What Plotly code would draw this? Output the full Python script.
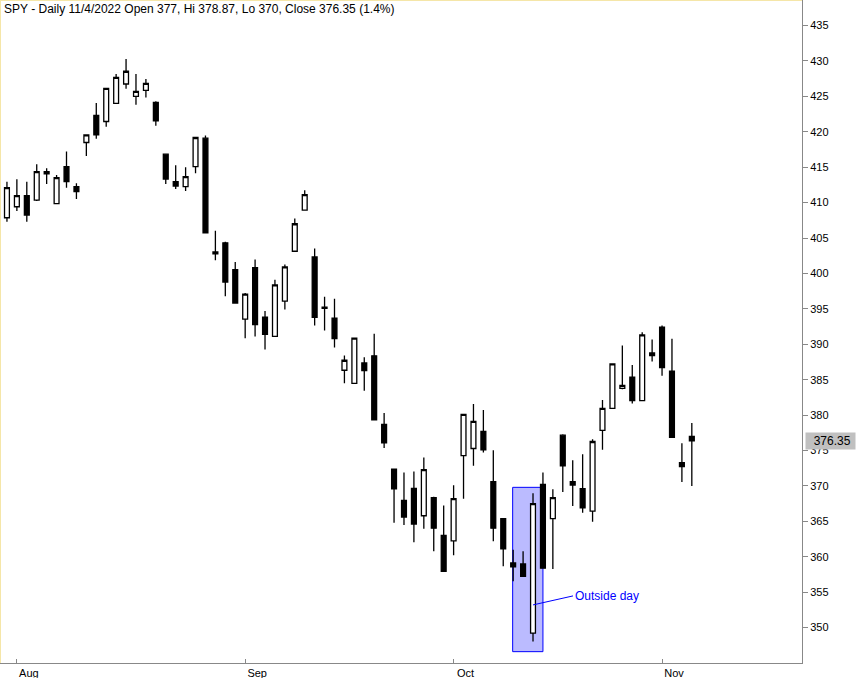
import plotly.graph_objects as go

# SPY daily, 2022-07-29 .. 2022-11-04 (one entry per trading day)
dates = (["7/29"] + [f"8/{d}" for d in (1, 2, 3, 4, 5, 8, 9, 10, 11, 12, 15, 16, 17, 18, 19,
                                         22, 23, 24, 25, 26, 29, 30, 31)]
         + [f"9/{d}" for d in (1, 2, 6, 7, 8, 9, 12, 13, 14, 15, 16, 19, 20, 21, 22, 23,
                               26, 27, 28, 29, 30)]
         + [f"10/{d}" for d in (3, 4, 5, 6, 7, 10, 11, 12, 13, 14, 17, 18, 19, 20, 21,
                                24, 25, 26, 27, 28, 31)]
         + [f"11/{d}" for d in (1, 2, 3, 4)])

opens = [407.86, 409.41, 410.97, 410.36, 414.37, 409.84, 415.08, 412.25, 418.48, 422.3,
         421.45, 424.0, 426.74, 424.99, 425.84, 424.14, 416.83, 412.95, 412.25, 415.08,
         419.09, 402.76, 404.32, 400.54,
         393.55, 400.82, 393.83, 391.1, 396.1, 403.13, 408.94, 402.33, 395.25, 393.69,
         386.33, 384.48, 387.36, 388.36, 378.68, 372.35, 367.96, 369.66, 365.79, 368.34,
         363.0,
         362.25, 374.29, 375.28, 377.69, 370.61, 365.37, 359.13, 358.99, 349.22, 370.23,
         365.37, 377.17, 370.61, 369.62, 366.45, 377.83, 380.95, 383.78, 385.34, 382.03,
         388.78,
         392.42, 386.19, 373.3, 377.0]
highs = [412.95, 413.29, 412.95, 415.41, 414.84, 413.9, 417.2, 412.72, 419.56, 424.05,
         426.13, 428.16, 430.28, 428.16, 427.45, 424.29, 416.83, 415.27, 414.99, 419.19,
         419.47, 406.01, 404.46, 401.62,
         397.23, 401.95, 394.68, 399.12, 401.25, 407.76, 411.73, 403.51, 396.71, 396.43,
         388.4, 390.86, 388.17, 391.47, 380.28, 372.35, 371.88, 372.02, 374.0, 368.48,
         367.25,
         370.09, 380.1, 381.56, 380.71, 375.05, 365.37, 361.0, 360.79, 368.95, 371.88,
         369.52, 377.31, 373.63, 374.48, 376.6, 382.13, 387.32, 389.82, 387.08, 391.71,
         390.67,
         392.66, 390.77, 376.04, 378.87]
lows = [407.3, 408.8, 407.3, 410.22, 412.62, 409.84, 412.1, 410.5, 416.59, 419.0,
        420.7, 424.0, 426.08, 423.81, 424.85, 420.84, 412.62, 411.92, 411.63, 414.14,
        405.73, 401.86, 396.76, 395.82,
        390.86, 391.1, 389.25, 391.1, 394.92, 403.04, 408.85, 392.65, 391.95, 389.54,
        384.48, 384.48, 383.45, 379.34, 375.37, 364.8, 364.47, 362.06, 363.95, 360.78,
        357.95,
        360.22, 368.2, 372.83, 374.71, 362.2, 358.66, 356.54, 357.15, 348.04, 358.38,
        358.28, 369.14, 367.16, 366.22, 364.94, 375.09, 380.95, 383.64, 381.65, 382.03,
        387.56,
        385.57, 376.84, 370.56, 370.0]
closes = [412.1, 410.97, 408.23, 414.37, 414.04, 413.52, 412.95, 411.54, 419.56, 419.56,
          426.13, 427.69, 428.54, 425.7, 426.84, 421.55, 413.33, 412.34, 413.66, 419.19,
          405.73, 403.04, 398.79, 395.82,
          397.09, 392.79, 391.38, 398.37, 400.92, 407.01, 411.11, 393.79, 395.06, 390.81,
          387.74, 390.86, 386.28, 379.34, 376.08, 369.57, 365.6, 364.61, 372.3, 364.04,
          357.95,
          368.2, 380.1, 379.1, 375.09, 364.04, 361.12, 358.57, 357.25, 367.49, 358.38,
          368.34, 372.83, 370.13, 366.92, 376.27, 380.95, 387.23, 384.2, 382.03, 391.33,
          388.41,
          386.71, 376.84, 372.73, 376.35]

month_labels = ["Aug", "Sep", "Oct", "Nov"]
month_first = ["8/1", "9/1", "10/3", "11/1"]
outside_day = "10/13"
box_days = ["10/11", "10/13"]
box_low, box_high = 346.6, 369.8
last_close = closes[-1]

idx = list(range(len(dates)))

fig = go.Figure()
fig.add_trace(go.Candlestick(
    x=idx, open=opens, high=highs, low=lows, close=closes,
    increasing={"line": {"color": "black", "width": 1.3}, "fillcolor": "white"},
    decreasing={"line": {"color": "black", "width": 1.3}, "fillcolor": "black"},
    whiskerwidth=0, hoverinfo="skip",
))

fig.add_shape(type="rect", xref="x", yref="y",
              x0=dates.index(box_days[0]) - 0.05, x1=dates.index(box_days[1]) + 1.0,
              y0=box_low, y1=box_high,
              fillcolor="rgba(120,120,255,0.5)", line={"color": "blue", "width": 1},
              layer="below")

fig.add_annotation(x=dates.index(outside_day), y=353.2, text="Outside day",
                   showarrow=True, arrowhead=0, arrowcolor="blue", arrowwidth=1,
                   ax=40, ay=-9, xanchor="left", font={"color": "blue", "size": 12})

fig.add_annotation(xref="paper", yref="paper", x=0.003, y=1.0, xanchor="left", yanchor="top",
                   text="SPY - Daily 11/4/2022 Open 377, Hi 378.87, Lo 370, Close 376.35 (1.4%)",
                   showarrow=False, font={"size": 12, "color": "black"})

fig.add_annotation(xref="paper", yref="y", x=1.0, y=last_close, xanchor="left",
                   text=f"  {last_close:.2f} ", showarrow=False, bgcolor="#c0c0c0",
                   xshift=3, font={"size": 12, "color": "black"})

fig.update_layout(
    width=861, height=678,
    margin={"l": 0, "r": 59, "t": 0, "b": 15},
    paper_bgcolor="white", plot_bgcolor="white",
    showlegend=False,
    font={"family": "Liberation Sans, Arial", "size": 11, "color": "black"},
    xaxis={
        "range": [-0.7, 80.1], "rangeslider": {"visible": False},
        "tickvals": [dates.index(d) for d in month_first], "ticktext": month_labels,
        "ticks": "inside", "ticklen": 4, "tickcolor": "#888",
        "showgrid": False, "zeroline": False,
        "showline": True, "linecolor": "#888", "mirror": False,
        "ticklabelshift": 12, "ticklabelstandoff": 0,
    },
    yaxis={
        "side": "right", "range": [345.0, 438.6],
        "tickvals": list(range(350, 436, 5)), "ticks": "outside", "ticklen": 5,
        "tickcolor": "#888", "showgrid": False, "zeroline": False,
        "showline": True, "linecolor": "#888",
    },
)
fig.add_shape(type="line", xref="paper", yref="paper", x0=0, x1=0, y0=0, y1=1,
              line={"color": "#f5e6a8", "width": 2})
fig.add_shape(type="line", xref="paper", yref="paper", x0=0, x1=1, y0=1, y1=1,
              line={"color": "#f5e6a8", "width": 2})

fig.write_html("out.html", config={"displayModeBar": False})

# drop the default page margin so the figure sits at the window's top-left corner
with open("out.html", encoding="utf-8") as f:
    page = f.read()
page = page.replace("<head>", "<head><style>body{margin:0;}</style>", 1)
with open("out.html", "w", encoding="utf-8") as f:
    f.write(page)
